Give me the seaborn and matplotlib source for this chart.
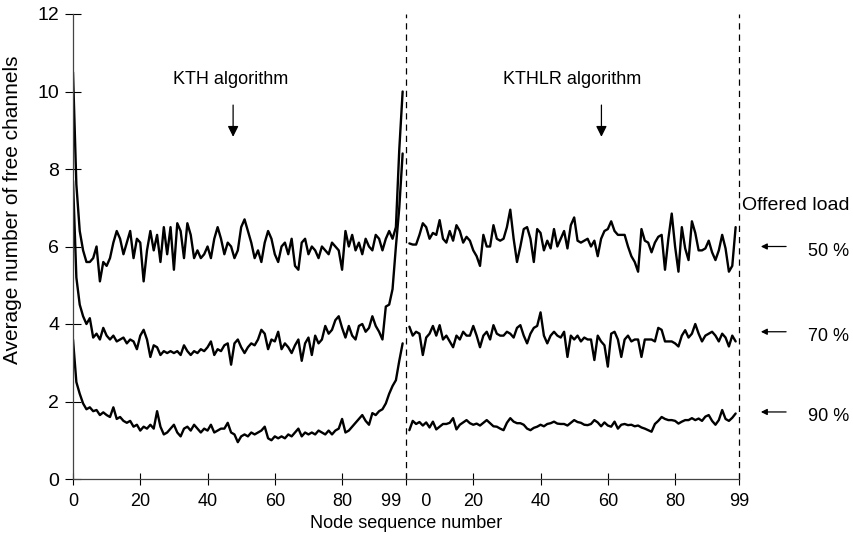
import numpy as np
import pandas as pd
import matplotlib
matplotlib.use("Agg")
import matplotlib.pyplot as plt
import seaborn as sns

# Average free channels per node
kth_50 = [10.5, 7.6, 6.4, 5.9, 5.6, 5.6, 5.7, 6.0, 5.1, 5.6,
          5.5, 5.7, 6.1, 6.4, 6.2, 5.8, 6.1, 6.4, 5.7, 6.2,
          6.1, 5.1, 5.9, 6.4, 5.9, 6.3, 5.6, 6.5, 5.8, 6.5,
          5.4, 6.6, 6.4, 5.7, 6.6, 6.3, 5.7, 5.9, 5.7, 5.8,
          6.0, 5.7, 6.2, 6.5, 6.2, 5.8, 6.1, 6.0, 5.7, 5.9,
          6.5, 6.7, 6.4, 6.1, 5.7, 5.9, 5.6, 6.1, 6.4, 6.2,
          5.8, 5.6, 6.0, 6.1, 5.8, 6.2, 5.5, 5.4, 6.1, 6.2,
          5.8, 6.0, 5.9, 5.7, 6.0, 5.9, 5.8, 6.1, 6.0, 5.9,
          5.4, 6.4, 6.0, 6.3, 5.9, 6.1, 5.8, 6.2, 6.0, 5.9,
          6.3, 6.2, 5.9, 6.2, 6.4, 6.2, 6.5, 8.5, 10.0]
kth_70 = [7.7, 5.2, 4.5, 4.2, 4.0, 4.15, 3.65, 3.75, 3.6, 3.9,
          3.7, 3.6, 3.7, 3.55, 3.6, 3.65, 3.5, 3.6, 3.55, 3.35,
          3.7, 3.85, 3.6, 3.15, 3.45, 3.4, 3.2, 3.3, 3.25, 3.3,
          3.25, 3.3, 3.2, 3.45, 3.3, 3.2, 3.3, 3.25, 3.35, 3.3,
          3.4, 3.55, 3.2, 3.35, 3.3, 3.45, 3.5, 2.95, 3.5, 3.6,
          3.4, 3.25, 3.4, 3.5, 3.45, 3.6, 3.85, 3.75, 3.35, 3.6,
          3.55, 3.8, 3.35, 3.5, 3.4, 3.25, 3.45, 3.6, 3.05, 3.5,
          3.65, 3.2, 3.7, 3.5, 3.6, 3.95, 3.75, 3.85, 4.1, 4.2,
          3.9, 3.65, 3.95, 3.7, 3.6, 3.95, 4.0, 3.8, 3.9, 4.2,
          3.95, 3.8, 3.6, 4.45, 4.5, 4.9, 6.0, 7.0, 8.4]
kth_90 = [3.6, 2.5, 2.2, 1.95, 1.8, 1.85, 1.75, 1.78, 1.65, 1.72,
          1.65, 1.6, 1.85, 1.55, 1.6, 1.5, 1.45, 1.5, 1.35, 1.4,
          1.25, 1.35, 1.3, 1.4, 1.3, 1.75, 1.35, 1.15, 1.2, 1.3,
          1.4, 1.2, 1.1, 1.3, 1.35, 1.25, 1.4, 1.3, 1.2, 1.3,
          1.25, 1.4, 1.2, 1.25, 1.3, 1.3, 1.45, 1.2, 1.15, 0.95,
          1.1, 1.15, 1.1, 1.2, 1.15, 1.2, 1.25, 1.35, 1.05, 1.0,
          1.1, 1.05, 1.1, 1.05, 1.15, 1.1, 1.2, 1.3, 1.1, 1.2,
          1.15, 1.2, 1.15, 1.25, 1.2, 1.15, 1.25, 1.15, 1.25, 1.3,
          1.55, 1.2, 1.25, 1.35, 1.45, 1.55, 1.65, 1.5, 1.4, 1.7,
          1.65, 1.75, 1.8, 1.95, 2.2, 2.4, 2.55, 3.05, 3.5]

kthlr_50 = [6.08, 6.05, 6.05, 6.3, 6.6, 6.5, 6.2, 6.35, 6.3, 6.68,
            6.2, 6.1, 6.4, 6.15, 6.55, 6.4, 6.1, 6.25, 6.15, 5.9,
            5.75, 5.5, 6.3, 6.0, 6.0, 6.55, 6.2, 6.15, 6.2, 6.5,
            6.95, 6.2, 5.6, 6.0, 6.45, 6.5, 6.2, 5.6, 6.45, 6.35,
            5.9, 6.15, 5.95, 6.45, 6.0, 6.2, 6.4, 5.95, 6.55, 6.75,
            6.15, 6.1, 6.15, 6.2, 6.0, 6.15, 5.75, 6.2, 6.4, 6.45,
            6.65, 6.4, 6.3, 6.3, 6.3, 6.0, 5.75, 5.6, 5.35, 6.45,
            6.15, 6.1, 5.85, 6.1, 6.25, 6.3, 5.4, 6.2, 6.85, 6.0,
            5.35, 6.5, 5.95, 5.65, 6.65, 6.35, 5.9, 5.9, 5.95, 6.15,
            5.85, 5.65, 5.9, 6.3, 5.95, 5.35, 5.5, 6.5]
kthlr_70 = [3.93, 3.7, 3.8, 3.75, 3.2, 3.65, 3.75, 3.95, 3.7, 3.97,
            3.6, 3.7, 3.55, 3.4, 3.7, 3.6, 3.8, 3.7, 3.7, 3.95,
            3.7, 3.4, 3.7, 3.8, 3.6, 3.97, 3.75, 3.7, 3.7, 3.8,
            3.75, 3.65, 3.9, 3.97, 3.7, 3.5, 3.75, 3.9, 3.95, 4.3,
            3.7, 3.5, 3.7, 3.8, 3.7, 3.65, 3.8, 3.15, 3.7, 3.6,
            3.7, 3.55, 3.65, 3.6, 3.6, 3.07, 3.7, 3.55, 3.45, 2.9,
            3.75, 3.8, 3.6, 3.15, 3.6, 3.7, 3.55, 3.6, 3.6, 3.15,
            3.6, 3.6, 3.6, 3.55, 3.9, 3.85, 3.55, 3.55, 3.55, 3.5,
            3.42, 3.7, 3.84, 3.65, 3.75, 4.0, 3.75, 3.55, 3.7, 3.75,
            3.8, 3.7, 3.55, 3.75, 3.65, 3.42, 3.7, 3.55]
kthlr_90 = [1.26, 1.5, 1.42, 1.47, 1.38, 1.46, 1.33, 1.48, 1.28, 1.35,
            1.42, 1.42, 1.45, 1.57, 1.28, 1.4, 1.46, 1.52, 1.44, 1.4,
            1.43, 1.38, 1.45, 1.52, 1.44, 1.36, 1.35, 1.3, 1.26, 1.45,
            1.57, 1.48, 1.44, 1.44, 1.4, 1.3, 1.26, 1.32, 1.35, 1.4,
            1.36, 1.42, 1.44, 1.48, 1.43, 1.42, 1.42, 1.38, 1.45, 1.52,
            1.47, 1.45, 1.4, 1.39, 1.42, 1.52, 1.46, 1.36, 1.46, 1.38,
            1.35, 1.48, 1.3, 1.4, 1.42, 1.39, 1.4, 1.36, 1.38, 1.33,
            1.3, 1.26, 1.22, 1.42, 1.5, 1.6, 1.55, 1.52, 1.52, 1.5,
            1.43, 1.48, 1.52, 1.52, 1.57, 1.52, 1.56, 1.5, 1.61, 1.65,
            1.5, 1.4, 1.52, 1.78, 1.55, 1.5, 1.58, 1.69]

tick_pos = [0, 20, 40, 60, 80, 99, 119, 139, 159, 179, 198]
tick_labels = ["0", "20", "40", "60", "80", "99    0", "20", "40", "60", "80", "99"]
load_labels = ["50 %", "70 %", "90 %"]
load_levels = [6.0, 3.8, 1.73]

sns.set_theme(style="white")
plt.rcParams["font.family"] = ["Liberation Sans", "DejaVu Sans"]
for key in ("text.color", "axes.labelcolor", "xtick.color", "ytick.color"):
    plt.rcParams[key] = "black"

fig = plt.figure(figsize=(8.54, 5.41), dpi=100)
ax = fig.add_axes([73 / 854, 62 / 541, 666 / 854, 465 / 541])

# left panel nodes 0..98, right panel shifted past the divider
for vals in (kth_50, kth_70, kth_90):
    sns.lineplot(x=np.arange(len(vals)), y=vals, color="black", lw=1.7,
                 solid_joinstyle="round", ax=ax)
for vals in (kthlr_50, kthlr_70, kthlr_90):
    sns.lineplot(x=100 + np.arange(len(vals)), y=vals, color="black", lw=1.7,
                 solid_joinstyle="round", ax=ax)

for xd in (99, 198):
    ax.axvline(xd, color="black", lw=0.9, ls=(0, (5, 4)), clip_on=False)

ax.set_xlim(0, 198)
ax.set_ylim(0, 12)
ax.set_yticks(range(0, 13, 2))
ax.set_xticks(tick_pos)
ax.set_xticklabels(tick_labels)
ax.tick_params(axis="y", direction="inout", length=12, width=0.8, labelsize=14, pad=4, left=True)
ax.tick_params(axis="x", direction="inout", length=8, width=0.8, labelsize=13, pad=6, bottom=True)

for s in ("top", "right"):
    ax.spines[s].set_visible(False)
for s in ("left", "bottom"):
    ax.spines[s].set_color("#444444")
    ax.spines[s].set_linewidth(0.9)

ax.set_xlabel("Node sequence number", fontsize=13, labelpad=4)
ax.set_ylabel("Average number of free channels", fontsize=15)
ax.yaxis.set_label_coords(-0.077, 0.58)

# algorithm captions with down arrows
ax.text(47.0, 10.3, "KTH algorithm", fontsize=13, ha="center", va="center")
ax.text(148.5, 10.3, "KTHLR algorithm", fontsize=13, ha="center", va="center")
for xa in (47.6, 157.1):
    ax.annotate("", xy=(xa, 8.83), xytext=(xa, 9.65),
                arrowprops=dict(arrowstyle="-|>", color="black", lw=0.9,
                                mutation_scale=16, shrinkA=0, shrinkB=0))

# offered load legend on the right
ax.text(199.0, 7.07, "Offered load", fontsize=14, ha="left", va="center", clip_on=False)
for lab, lev in zip(load_labels, load_levels):
    ax.annotate("", xy=(204.5, lev), xytext=(212.0, lev), annotation_clip=False,
                arrowprops=dict(arrowstyle="-|>", color="black", lw=0.9,
                                mutation_scale=9, shrinkA=0, shrinkB=0))
    ax.text(224.7, lev - 0.12, lab, fontsize=13, ha="center", va="center", clip_on=False)

fig.savefig("out.png", dpi=100)
